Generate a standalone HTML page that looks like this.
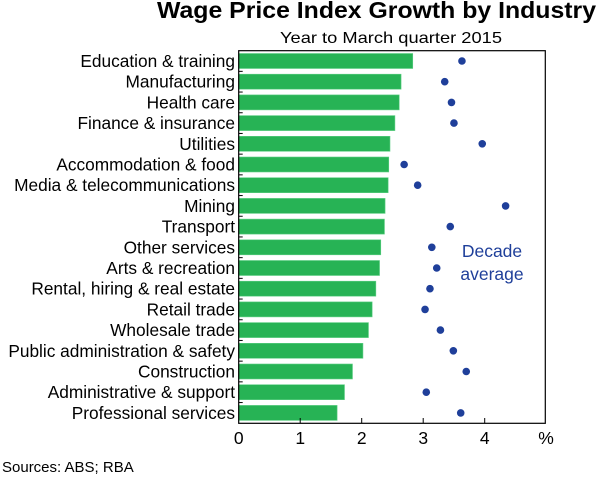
<!DOCTYPE html>
<html><head><meta charset="utf-8"><style>
body{margin:0;background:#fff;}
svg text{font-family:"Liberation Sans",sans-serif;}
</style></head><body>
<svg width="600" height="476" xmlns="http://www.w3.org/2000/svg">
<text x="157" y="18" font-size="23" font-weight="bold" textLength="439" lengthAdjust="spacingAndGlyphs">Wage Price Index Growth by Industry</text>
<text x="280" y="43" font-size="16" textLength="222" lengthAdjust="spacingAndGlyphs">Year to March quarter 2015</text>
<g id="plot"></g>
<rect x="238.7" y="50.7" width="306.6" height="372.6" fill="none" stroke="#000" stroke-width="1.2"/>
<text x="492" y="257" text-anchor="middle" font-size="17.5" fill="#1f3f9a">Decade</text>
<text x="492" y="280" text-anchor="middle" font-size="17.5" fill="#1f3f9a">average</text>
<text x="2" y="472" font-size="15">Sources:   ABS; RBA</text>
</svg>
<script>
const categories=["Education & training","Manufacturing","Health care","Finance & insurance","Utilities","Accommodation & food","Media & telecommunications","Mining","Transport","Other services","Arts & recreation","Rental, hiring & real estate","Retail trade","Wholesale trade","Public administration & safety","Construction","Administrative & support","Professional services"];
const growth=[2.83,2.64,2.61,2.54,2.46,2.44,2.43,2.38,2.37,2.31,2.29,2.23,2.17,2.11,2.02,1.85,1.72,1.60];
const decadeAvg=[3.63,3.35,3.46,3.50,3.96,2.69,2.91,4.34,3.44,3.14,3.22,3.11,3.03,3.28,3.49,3.70,3.05,3.61];
const xTicks=[0,1,2,3,4];
const NS="http://www.w3.org/2000/svg";
const g=document.getElementById('plot');
const x0=238.7,xs=61.5,top0=61,step=20.7;
const X=v=>x0+v*xs, Y=i=>top0+i*step;
function mk(t,a){const e=document.createElementNS(NS,t);for(const k in a)e.setAttribute(k,a[k]);g.appendChild(e);return e;}
categories.forEach((c,i)=>{
  const b=mk('rect',{x:x0,y:Y(i)-7.5,width:X(growth[i])-x0,height:15,fill:'#27b355',stroke:'#5fcf85','stroke-width':0.6});
  
  
  const d=mk('circle',{cx:X(decadeAvg[i]),cy:Y(i),r:3.8,fill:'#1f3f9a'});
  
  
  const t=mk('text',{x:235,y:Y(i)+6,'text-anchor':'end','font-size':17.3});
  t.textContent=c;
  
  
  if(i<categories.length-1){const tk=mk('line',{x1:x0,x2:x0+4,y1:Y(i)+step/2,y2:Y(i)+step/2,stroke:'#000'});
  
  }
});
xTicks.forEach(v=>{
  if(v>0){const l=mk('line',{x1:X(v),x2:X(v),y1:423.3,y2:418,stroke:'#000'});
  
  }
  const t=mk('text',{x:X(v),y:444,'text-anchor':'middle','font-size':17.5});
  t.textContent=v;
  
  
});
const p=mk('text',{x:546,y:444,'text-anchor':'middle','font-size':17.5});
p.textContent='%';


</script>
</body></html>
